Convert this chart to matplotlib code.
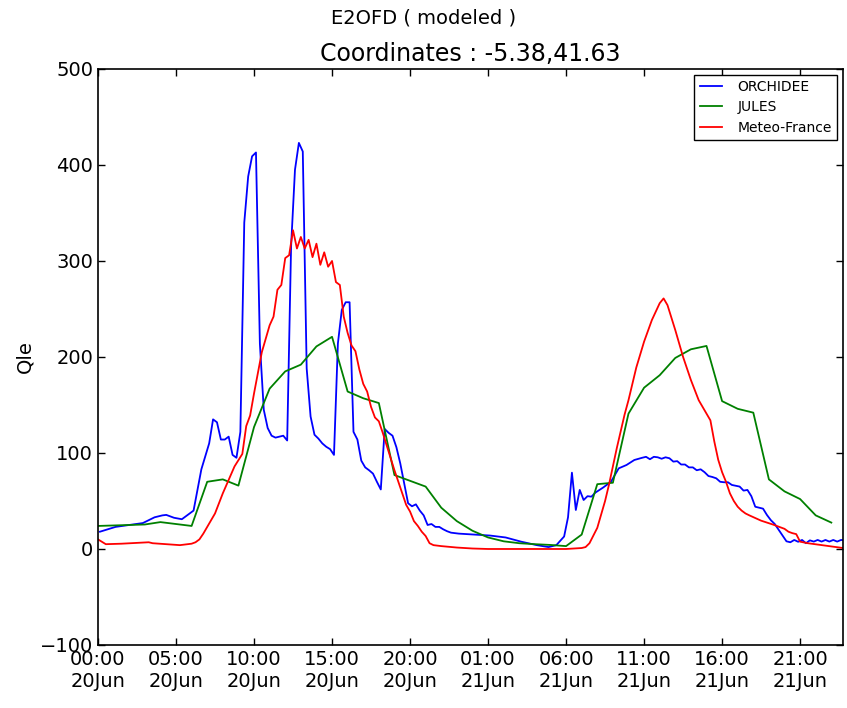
import numpy as np
import pandas as pd
import matplotlib
matplotlib.use("Agg")
import matplotlib.pyplot as plt
import matplotlib.dates as mdates

# hours since 20 Jun 00:00
# ORCHIDEE values sit at the middle of each 15 min step
orchidee_step_hours = [0, 1.0, 2.75, 3.5, 4.0, 4.25, 4.75, 5.25, 5.5, 6.0, 6.5, 7.0, 7.25, 7.5, 7.75,
              8.0, 8.25, 8.5, 8.75, 9.0, 9.25, 9.5, 9.75, 10.0, 10.25, 10.5, 10.75, 11.0,
              11.25, 11.5, 11.75, 12.0, 12.25, 12.5, 12.75, 13.0, 13.25, 13.5, 13.75, 14.0,
              14.25, 14.5, 14.75, 15.0, 15.25, 15.5, 15.75, 16.0, 16.25, 16.5, 16.75, 17.0,
              17.25, 17.5, 17.75, 18.0, 18.25, 18.5, 18.75, 19.0, 19.25, 19.5, 19.75, 20.0,
              20.25, 20.5, 20.75, 21.0, 21.25, 21.5, 21.75, 22.0, 22.25, 22.5, 23.0, 24.0,
              25.0, 26.0, 27.0, 28.0, 28.75, 29.25, 29.75, 30.0, 30.25, 30.5, 30.75, 31.0,
              31.25, 31.5, 31.75, 32.25, 32.75, 33.25, 33.75, 34.25, 34.75, 35.0, 35.25,
              35.5, 35.75, 36.0, 36.25, 36.5, 36.75, 37.0, 37.25, 37.5, 37.75, 38.0, 38.25,
              38.5, 38.75, 39.0, 39.25, 39.5, 39.75, 40.0, 40.25, 40.5, 41.0, 41.25, 41.5,
              41.75, 42.0, 42.25, 42.5, 42.75, 43.0, 43.25, 43.5, 43.75, 44.0, 44.25, 44.5,
              44.75, 45.0, 45.25, 45.5, 45.75, 46.0, 46.25, 46.5, 46.75, 47.0, 47.25, 47.5,
              47.75]
orchidee_h = [h + 0.125 for h in orchidee_step_hours]
orchidee = [18, 23, 27, 33, 35, 35.5, 32.5, 31, 34, 40, 83, 110, 135, 132, 114,
            114, 117, 98, 95, 122, 340, 388, 409, 413, 214, 145, 126, 118,
            116, 117, 118, 113, 315, 395, 423, 414, 188, 138, 119, 115,
            110, 106.5, 104, 98, 214, 249, 257, 257, 122, 114, 92, 85,
            82, 78.5, 70, 62, 125, 121, 118, 106, 89, 68, 47.6, 44.5,
            46.5, 40, 35, 25, 26, 23, 23, 20.5, 18.5, 17, 16, 15,
            14, 12, 7.6, 4, 2, 4, 13, 33, 79.5, 40.6, 61.5, 51,
            55, 54.5, 58.7, 64, 70, 84, 87.5, 92.7, 95, 96, 93.5,
            96, 95.5, 94, 95.5, 94.5, 91, 91.5, 88, 88, 85, 85, 82,
            83, 80, 76, 75, 73.6, 70, 69.5, 69.5, 66.7, 65, 60.8, 61.5,
            55, 44, 43, 42, 35.4, 30, 26, 20, 14, 8, 7, 9.4,
            7.5, 9.4, 6, 9, 7.7, 9.4, 7.7, 9.4, 7.7, 9.4, 7.7, 9.4,
            9]

jules_h = list(range(48))
jules = [24, 24.5, 25, 25.5, 28, 26, 24, 70, 72.5, 66, 127, 167, 185, 192, 211, 221,
         164, 157, 152, 77, 71, 65, 43, 29, 19, 12, 8, 6, 5, 4.2, 3, 15,
         67.5, 69, 141, 168, 181, 199, 208, 211.5, 154, 146, 142, 72.5, 60, 52, 35, 27.5]

meteo_h = [0, 0.5, 1.5, 3.25, 3.5, 5.25, 6.0, 6.25, 6.5, 6.75, 7.5, 8.0, 8.75, 9.25, 9.5,
           9.75, 10.0, 10.5, 11.0, 11.25, 11.5, 11.75, 12.0, 12.25, 12.5, 12.75, 13.0,
           13.25, 13.5, 13.75, 14.0, 14.25, 14.5, 14.75, 15.0, 15.25, 15.5, 15.75, 16.0,
           16.25, 16.5, 16.75, 17.0, 17.25, 17.5, 17.75, 18.0, 18.25, 18.5, 18.75, 19.0,
           19.25, 19.5, 19.75, 20.0, 20.25, 20.5, 20.75, 21.0, 21.25, 21.5, 22.0, 23.0,
           24.0, 25.0, 30.0, 30.5, 31.0, 31.25, 31.5, 32.0, 32.25, 32.5, 32.75, 33.25,
           33.75, 34.0, 34.5, 35.0, 35.5, 36.0, 36.25, 36.5, 37.0, 37.5, 38.0, 38.5,
           39.25, 39.5, 39.75, 40.0, 40.25, 40.5, 40.75, 41.0, 41.25, 41.5, 41.75, 42.5,
           43.25, 44.0, 44.25, 44.5, 44.75, 45.0, 45.5, 47.75]
meteo = [10, 5, 5.5, 7, 6, 4, 5.5, 7, 10, 16, 37, 58, 86, 99, 128,
         139, 162, 205, 233, 242, 270, 275, 303, 306, 332, 313, 325,
         313, 322, 304, 318, 296, 309, 294, 300, 278, 275, 242, 225,
         212, 206, 187, 172, 164, 148, 137, 133, 121, 108, 95, 82,
         70, 58, 46, 39, 29, 24, 18, 13.5, 6, 4, 3, 1.5,
         0.5, 0, 0, 0.5, 1, 2, 6, 22, 36, 50, 67, 105,
         140, 155, 189, 216, 238.5, 256, 261, 254, 228, 200, 176, 155,
         134, 112, 93, 80, 70, 58, 50, 44, 40, 37, 35, 29.5,
         25.5, 21, 18, 16.5, 15.5, 7.6, 6, 1]

t0 = pd.Timestamp("2000-06-20 00:00")


def to_time(hours):
    return t0 + pd.to_timedelta(np.array(hours, dtype=float), unit="h")


fig = plt.figure(figsize=(8.47, 7.08), dpi=100)
ax = fig.add_axes([0.1157, 0.089, 0.8796, 0.8136])

ax.plot(to_time(orchidee_h), orchidee, color="b", lw=1.3, label="ORCHIDEE")
ax.plot(to_time(jules_h), jules, color="g", lw=1.3, label="JULES")
ax.plot(to_time(meteo_h), meteo, color="r", lw=1.3, label="Meteo-France")

ax.set_xlim(to_time([0])[0], to_time([47.75])[0])
ax.set_ylim(-100, 500)
ax.set_yticks(np.arange(-100, 501, 100))
ax.set_xticks(to_time(np.arange(0, 48, 5)))
ax.xaxis.set_major_formatter(mdates.DateFormatter("%H:%M\n%d%b"))

ax.tick_params(direction="in", top=True, right=True, labelsize=14, length=5, width=1)
for s in ax.spines.values():
    s.set_linewidth(1.2)

ax.set_ylabel("Qle", fontsize=14)
ax.set_title("Coordinates : -5.38,41.63", fontsize=17, pad=6)
fig.suptitle("E2OFD ( modeled )", fontsize=14, y=0.988)

leg = ax.legend(loc="upper right", fontsize=10, fancybox=False, framealpha=1,
                edgecolor="black", borderaxespad=0.4, handlelength=1.6,
                handletextpad=1.1, labelspacing=0.45)
leg.get_frame().set_linewidth(1.0)

fig.savefig("out.png", dpi=100, facecolor="white")
